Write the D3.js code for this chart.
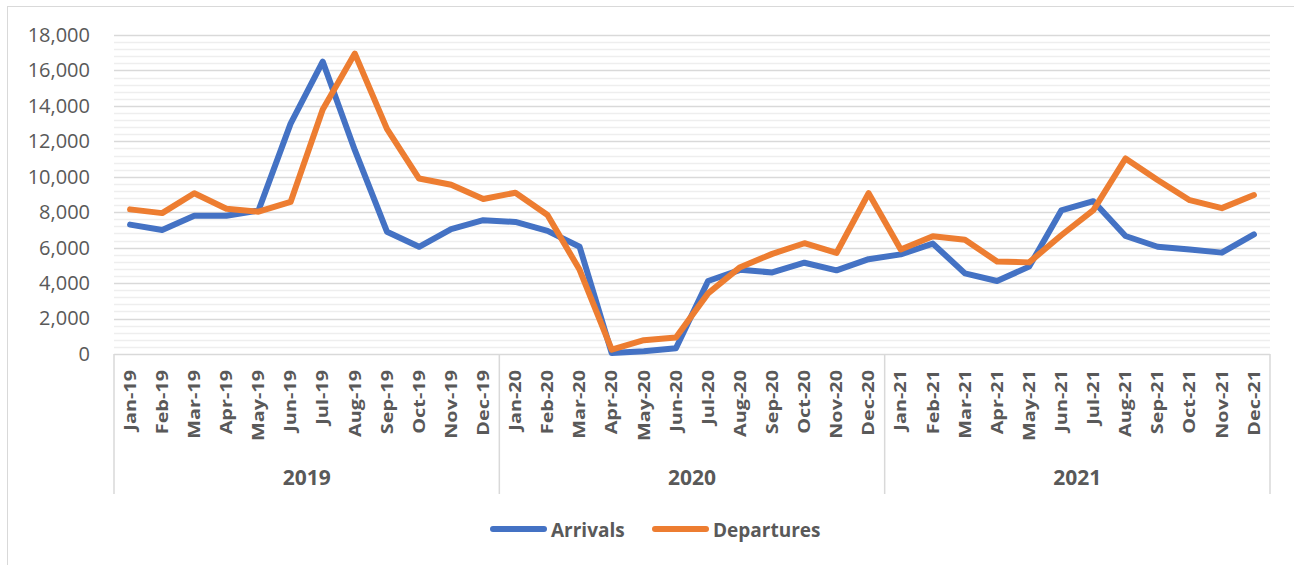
<!DOCTYPE html>
<html>
<head>
<meta charset="utf-8">
<script src="https://cdn.jsdelivr.net/npm/d3@7"></script>
<style>
  body { margin: 0; background: #fff; }
  text { font-family: "Open Sans", "Liberation Sans", sans-serif; fill: #595959; }
</style>
</head>
<body>
<div id="chart"></div>
<script>
// data
var years = ["2019", "2020", "2021"];
var monthNames = ["Jan", "Feb", "Mar", "Apr", "May", "Jun", "Jul", "Aug", "Sep", "Oct", "Nov", "Dec"];
var arrivals = [7300, 7000, 7800, 7800, 8100, 13000, 16500, 11500, 6900, 6050, 7050, 7550,
                7450, 6950, 6050, 50, 150, 320, 4120, 4750, 4600, 5150, 4720, 5350,
                5620, 6230, 4550, 4120, 4930, 8100, 8620, 6660, 6050, 5900, 5720, 6750];
var departures = [8160, 7950, 9070, 8200, 8030, 8580, 13800, 16950, 12700, 9900, 9550, 8750,
                  9100, 7840, 4750, 250, 780, 930, 3420, 4900, 5650, 6250, 5700, 9070,
                  5900, 6650, 6450, 5220, 5170, 6700, 8120, 11030, 9820, 8680, 8230, 8970];
var yTicks = [0, 2000, 4000, 6000, 8000, 10000, 12000, 14000, 16000, 18000];

var svgWidth = 1294;
var svgHeight = 565;
var plot = { left: 114, right: 1270, top: 35, bottom: 354 };

var categories = [];
years.forEach(function(y) {
    monthNames.forEach(function(m) {
        categories.push(m + "-" + y.slice(2));
    });
});

var svg = d3.select("#chart")
    .append("svg")
    .attr("width", svgWidth)
    .attr("height", svgHeight);

// chart border
svg.append("rect")
    .attr("x", 7.5).attr("y", 6.5)
    .attr("width", svgWidth + 10).attr("height", svgHeight + 10)
    .attr("fill", "none")
    .attr("stroke", "#d9d9d9");

var x = d3.scaleBand()
    .domain(categories)
    .range([plot.left, plot.right]);

var yearScale = d3.scaleBand()
    .domain(years)
    .range([plot.left, plot.right]);

var y = d3.scaleLinear()
    .domain([0, 18000])
    .range([plot.bottom, plot.top]);

var cx = function(d) { return x(d) + x.bandwidth() / 2; };

// minor gridlines
svg.append("g")
    .selectAll("line")
    .data(d3.range(400, 18000, 400).filter(function(v) { return v % 2000 !== 0; }))
    .enter()
    .append("line")
    .attr("x1", plot.left).attr("x2", plot.right)
    .attr("y1", d => Math.round(y(d)) + 0.5)
    .attr("y2", d => Math.round(y(d)) + 0.5)
    .attr("stroke", "#eeeeee")
    .attr("stroke-width", 1.5);

// major gridlines
svg.append("g")
    .selectAll("line")
    .data(yTicks.slice(1))
    .enter()
    .append("line")
    .attr("x1", plot.left).attr("x2", plot.right)
    .attr("y1", d => Math.round(y(d)) + 0.5)
    .attr("y2", d => Math.round(y(d)) + 0.5)
    .attr("stroke", "#d9d9d9")
    .attr("stroke-width", 1.5);

// y axis labels
var yAxis = svg.append("g")
    .attr("transform", "translate(90,0)")
    .call(d3.axisLeft(y).tickValues(yTicks).tickSize(0).tickPadding(0).tickFormat(d3.format(",")));
yAxis.select(".domain").remove();
yAxis.selectAll("text")
    .style("font-family", '"Open Sans", sans-serif')
    .style("font-size", "20px")
    .attr("fill", "#595959");

// category axis line and dividers
svg.append("line")
    .attr("x1", plot.left).attr("x2", plot.right)
    .attr("y1", plot.bottom + 0.5).attr("y2", plot.bottom + 0.5)
    .attr("stroke", "#d9d9d9")
    .attr("stroke-width", 1.5);

var dividers = years.map(function(yr) { return yearScale(yr); }).concat([plot.right]);
svg.append("g")
    .selectAll("line")
    .data(dividers)
    .enter()
    .append("line")
    .attr("x1", d => d).attr("x2", d => d)
    .attr("y1", plot.bottom).attr("y2", 494)
    .attr("stroke", "#d9d9d9")
    .attr("stroke-width", 1.5);

// month labels
svg.append("g")
    .selectAll("text")
    .data(categories)
    .enter()
    .append("text")
    .attr("transform", d => `translate(${cx(d)}, 370) rotate(-90) scale(1.24, 1)`)
    .attr("dy", "0.36em")
    .attr("text-anchor", "end")
    .style("font-size", "16px")
    .style("font-weight", "bold")
    .text(d => d);

// year labels
svg.append("g")
    .selectAll("text")
    .data(years)
    .enter()
    .append("text")
    .attr("x", d => yearScale(d) + yearScale.bandwidth() / 2)
    .attr("y", 485)
    .attr("text-anchor", "middle")
    .style("font-size", "21px")
    .style("font-weight", "bold")
    .text(d => d);

// lines
var line = d3.line()
    .x(function(d, i) { return cx(categories[i]); })
    .y(function(d) { return y(d); });

var series = [
    { name: "Arrivals", values: arrivals, color: "#4472c4" },
    { name: "Departures", values: departures, color: "#ed7d31" }
];

svg.append("g")
    .selectAll("path")
    .data(series)
    .enter()
    .append("path")
    .attr("d", d => line(d.values))
    .attr("fill", "none")
    .attr("stroke", d => d.color)
    .attr("stroke-width", 6)
    .attr("stroke-linejoin", "round")
    .attr("stroke-linecap", "round");

// legend
var legendX = d3.scaleOrdinal()
    .domain(series.map(d => d.name))
    .range([490, 652]);

var legend = svg.append("g")
    .selectAll("g")
    .data(series)
    .enter()
    .append("g")
    .attr("transform", d => `translate(${legendX(d.name)}, 529)`);

legend.append("line")
    .attr("x1", 3).attr("x2", 54)
    .attr("y1", 0).attr("y2", 0)
    .attr("stroke", d => d.color)
    .attr("stroke-width", 6)
    .attr("stroke-linecap", "round");

legend.append("text")
    .attr("x", 61)
    .attr("y", 8)
    .style("font-size", "19px")
    .style("font-weight", "bold")
    .text(d => d.name);
</script>
</body>
</html>
